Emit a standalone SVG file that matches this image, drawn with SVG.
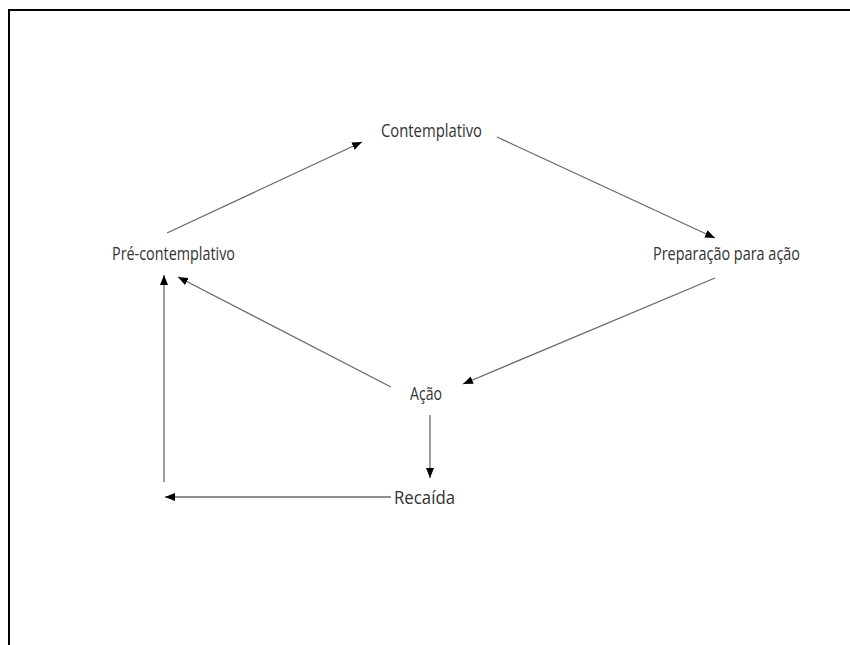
<svg xmlns="http://www.w3.org/2000/svg" width="850" height="645" viewBox="0 0 850 645">
<defs>
<marker id="ah" markerWidth="10" markerHeight="8" refX="10" refY="4" orient="auto" markerUnits="userSpaceOnUse">
<path d="M0,0 L10,4 L0,8 Z" fill="#000"/>
</marker>
<style>
.lbl{font-family:"Open Sans","Liberation Sans",sans-serif;font-size:18px;fill:#333;}
.c{stroke:#6a6a6a;stroke-width:1.3;fill:none;marker-end:url(#ah);}
</style>
</defs>
<rect width="850" height="645" fill="#fff"/>
<path d="M9,645 V10 H850" fill="none" stroke="#000" stroke-width="2"/>
<g id="n-contemplativo"><text class="lbl" x="381" y="137" textLength="101" lengthAdjust="spacingAndGlyphs">Contemplativo</text></g>
<g id="n-pre"><text class="lbl" x="112" y="260" textLength="123" lengthAdjust="spacingAndGlyphs">Pré-contemplativo</text></g>
<g id="n-prep"><text class="lbl" x="653" y="260" textLength="147" lengthAdjust="spacingAndGlyphs">Preparação para ação</text></g>
<g id="n-acao"><text class="lbl" x="410" y="400" textLength="32" lengthAdjust="spacingAndGlyphs">Ação</text></g>
<g id="n-recaida"><text class="lbl" x="394" y="504" textLength="61" lengthAdjust="spacingAndGlyphs">Recaída</text></g>
<g id="connectors">
<line class="c" x1="167" y1="233" x2="362" y2="142"/>
<line class="c" x1="497" y1="137" x2="715" y2="238"/>
<line class="c" x1="715" y1="278" x2="463" y2="384"/>
<line class="c" x1="391" y1="387" x2="178" y2="277"/>
<line class="c" x1="430" y1="415" x2="430" y2="478"/>
<line class="c" x1="391" y1="497" x2="165" y2="497"/>
<line class="c" x1="164" y1="482" x2="164" y2="275"/>
</g>
</svg>
